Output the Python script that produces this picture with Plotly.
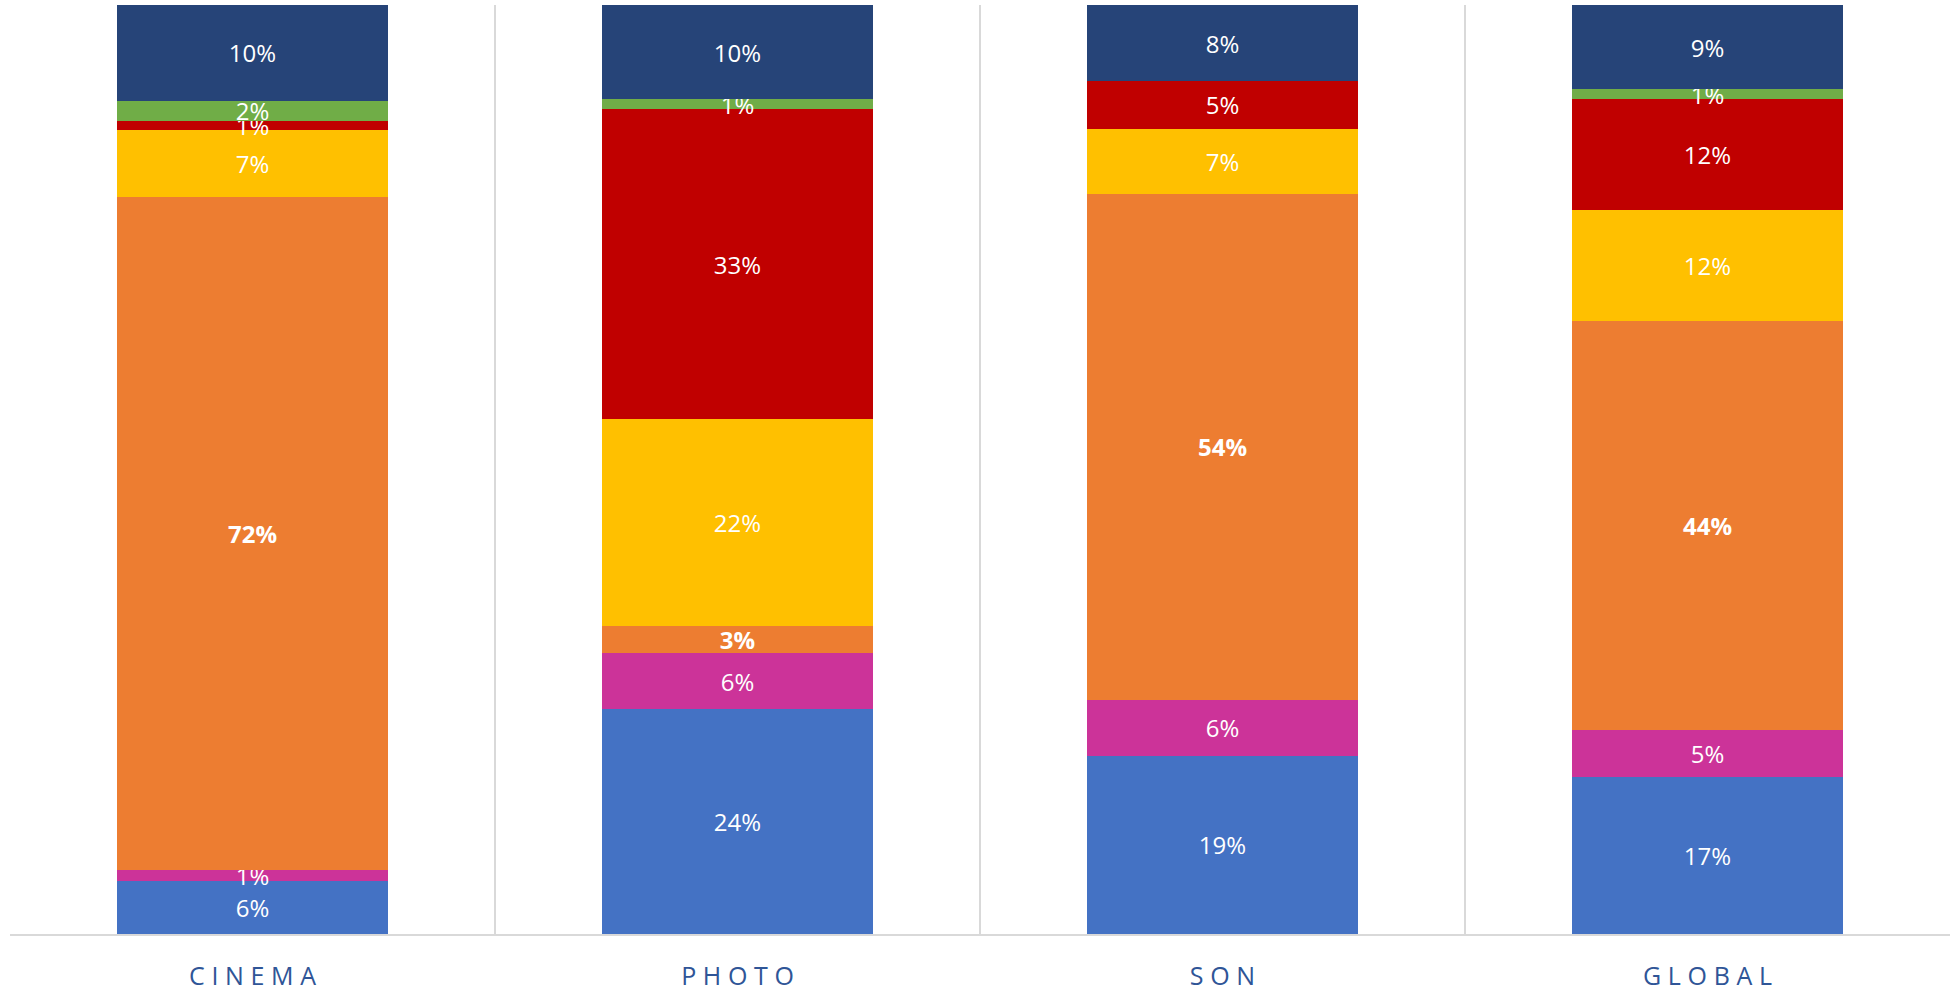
import plotly.graph_objects as go

categories = ["CINEMA", "PHOTO", "SON", "GLOBAL"]
tick_labels = ["\u2009\u200a".join(c) for c in categories]

# stacked bottom -> top
series_names = ["Série 1", "Série 2", "Série 3", "Série 4", "Série 5", "Série 6", "Série 7"]
s1_blue = [5.75, 24.19, 19.2, 16.9]
s2_magenta = [1.1, 6.03, 6.0, 5.03]
s3_orange = [72.45, 2.97, 54.45, 44.06]
s4_yellow = [7.2, 22.25, 7.05, 11.95]
s5_red = [1.0, 33.4, 5.1, 11.95]
s6_green = [2.2, 1.04, 0.0, 1.04]
s7_navy = [10.3, 10.15, 8.2, 9.08]

series_values = [s1_blue, s2_magenta, s3_orange, s4_yellow, s5_red, s6_green, s7_navy]
colors = ["#4472C4", "#CC3399", "#ED7D31", "#FFC000", "#C00000", "#70AD47", "#264478"]
bold = [False, False, True, False, False, False, False]

fig = go.Figure()
for name, vals, col, b in zip(series_names, series_values, colors, bold):
    txt = [("" if v == 0 else f"{round(v)}%") for v in vals]
    if b:
        txt = [("<b>" + t + "</b>" if t else "") for t in txt]
    fig.add_trace(go.Bar(
        x=categories, y=vals, name=name, text=txt,
        texttemplate="%{text}", textposition="inside", insidetextanchor="middle",
        textangle=0,
        textfont=dict(color="white", size=24, family="Open Sans"),
        marker=dict(color=col, line=dict(width=0)),
        hoverinfo="skip",
    ))

fig.update_layout(
    barmode="stack",
    barnorm="percent",
    bargap=0.44,
    showlegend=False,
    width=1960, height=991,
    margin=dict(l=10, r=10, t=5, b=57),
    paper_bgcolor="white", plot_bgcolor="white",
    uniformtext=dict(minsize=24, mode="show"),
    font=dict(family="Open Sans"),
)
fig.update_xaxes(
    type="category", tickvals=categories, ticktext=tick_labels,
    tickson="boundaries", showgrid=True, gridcolor="#D9D9D9", gridwidth=1.5,
    showline=True, linecolor="#D9D9D9", linewidth=2,
    ticks="", tickfont=dict(size=25, color="#2F5597", family="Open Sans"),
    ticklabelstandoff=19, automargin=False, range=[-0.5, 3.5],
)
fig.update_yaxes(range=[0, 100], showgrid=False, showticklabels=False,
                 zeroline=False, showline=False, automargin=False)

fig.write_html("out.html", config={"displayModeBar": False},
               post_script="document.body.style.margin='0';document.body.style.overflow='hidden';")
